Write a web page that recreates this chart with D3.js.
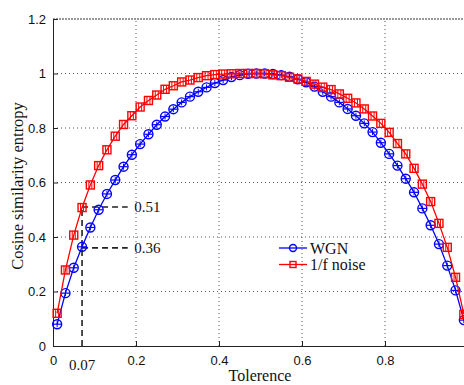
<!DOCTYPE html>
<html>
<head>
<meta charset="utf-8">
<script src="https://cdn.jsdelivr.net/npm/d3@7"></script>
<style>
body { margin: 0; background: #fff; }
svg { display: block; }
</style>
</head>
<body>
<svg></svg>
<script>
// tolerance values (0.01 .. 0.99 step 0.02)
var tol = [0.01,0.03,0.05,0.07,0.09,0.11,0.13,0.15,0.17,0.19,0.21,0.23,0.25,0.27,0.29,0.31,0.33,0.35,0.37,0.39,
           0.41,0.43,0.45,0.47,0.49,0.51,0.53,0.55,0.57,0.59,0.61,0.63,0.65,0.67,0.69,0.71,0.73,0.75,0.77,0.79,
           0.81,0.83,0.85,0.87,0.89,0.91,0.93,0.95,0.97,0.99];

var wgn = [0.080,0.194,0.287,0.364,0.435,0.500,0.558,0.609,0.658,0.702,0.741,0.777,0.812,0.842,0.869,0.894,0.915,0.933,0.949,0.965,
           0.976,0.987,0.994,0.999,1.000,1.000,0.998,0.994,0.988,0.979,0.968,0.952,0.933,0.915,0.894,0.870,0.845,0.817,0.785,0.746,
           0.705,0.662,0.614,0.564,0.505,0.443,0.374,0.295,0.204,0.095];

var pink = [0.120,0.279,0.407,0.508,0.591,0.662,0.720,0.770,0.813,0.845,0.877,0.901,0.921,0.942,0.955,0.969,0.976,0.985,0.992,0.996,
            0.998,0.999,1.000,1.000,1.000,0.999,0.995,0.992,0.986,0.980,0.971,0.961,0.950,0.941,0.925,0.909,0.892,0.870,0.844,0.817,
            0.784,0.743,0.705,0.652,0.594,0.530,0.450,0.362,0.252,0.116];

var xTicks = [0, 0.2, 0.4, 0.6, 0.8];
var yTicks = [0, 0.2, 0.4, 0.6, 0.8, 1, 1.2];

var markX = 0.07, markLow = 0.36, markHigh = 0.51;

var svgWidth = 464, svgHeight = 385;
var plotL = 53, plotT = 19, plotR = 468, plotB = 346;

var svg = d3.select('svg')
    .attr("width", svgWidth)
    .attr("height", svgHeight);

var x = d3.scaleLinear().domain([0, 1]).range([plotL, plotR]);
var y = d3.scaleLinear().domain([0, 1.2]).range([plotB, plotT]);

// grid
svg.append("g").selectAll("line")
    .data(xTicks.slice(1))
    .enter().append("line")
    .attr("x1", function (d) { return x(d); })
    .attr("x2", function (d) { return x(d); })
    .attr("y1", plotB).attr("y2", plotT)
    .attr("stroke", "#555").attr("stroke-width", 1)
    .attr("stroke-dasharray", "1,3");

svg.append("g").selectAll("line")
    .data(yTicks.slice(1, -1))
    .enter().append("line")
    .attr("y1", function (d) { return y(d); })
    .attr("y2", function (d) { return y(d); })
    .attr("x1", plotL).attr("x2", plotR)
    .attr("stroke", "#555").attr("stroke-width", 1)
    .attr("stroke-dasharray", "1,3");

// axes
var xAxis = d3.axisBottom(x).tickValues(xTicks).tickSize(-5).tickSizeOuter(0)
    .tickFormat(function (d) { return d; });
var yAxis = d3.axisLeft(y).tickValues(yTicks).tickSize(-5).tickSizeOuter(0)
    .tickFormat(function (d) { return d; });

var gx = svg.append("g").attr("transform", "translate(0," + plotB + ")").call(xAxis);
var gy = svg.append("g").attr("transform", "translate(" + plotL + ",0)").call(yAxis);

[gx, gy].forEach(function (g) {
    g.select(".domain").attr("stroke", "#222");
    g.selectAll(".tick line").attr("stroke", "#222");
    g.selectAll("text").attr("font-family", "'Liberation Sans', Arial, sans-serif")
        .attr("font-size", 13).attr("fill", "#111");
});
gx.selectAll("text").attr("dy", "1.25em");
gy.selectAll("text").attr("x", -7);

// top border
svg.append("line")
    .attr("x1", plotL).attr("x2", plotR)
    .attr("y1", plotT).attr("y2", plotT)
    .attr("stroke", "#333").attr("stroke-width", 1.2)
    .attr("stroke-dasharray", "2,1");

// annotation dashed lines
var dash = svg.append("g")
    .attr("stroke", "#222").attr("stroke-width", 1.6)
    .attr("stroke-dasharray", "6,4").attr("fill", "none");
dash.append("line")
    .attr("x1", x(markX)).attr("x2", x(markX))
    .attr("y1", y(0)).attr("y2", y(markHigh));
dash.append("line")
    .attr("x1", x(markX)).attr("x2", x(0.18))
    .attr("y1", y(markHigh)).attr("y2", y(markHigh));
dash.append("line")
    .attr("x1", x(markX)).attr("x2", x(0.18))
    .attr("y1", y(markLow)).attr("y2", y(markLow));

var serif = "'Liberation Serif', 'Times New Roman', serif";

svg.append("text").text(markHigh)
    .attr("x", x(0.196)).attr("y", y(markHigh)).attr("dy", "0.35em")
    .attr("font-family", serif).attr("font-size", 15).attr("fill", "#111");
svg.append("text").text(markLow)
    .attr("x", x(0.196)).attr("y", y(markLow)).attr("dy", "0.35em")
    .attr("font-family", serif).attr("font-size", 15).attr("fill", "#111");
svg.append("text").text(markX)
    .attr("x", x(markX)).attr("y", 370).attr("text-anchor", "middle")
    .attr("font-family", serif).attr("font-size", 15).attr("fill", "#111");

// series
var series = [
    { name: "WGN", values: wgn, color: "#0000ff", shape: "circle" },
    { name: "1/f noise", values: pink, color: "#ff0000", shape: "square" }
];

var line = d3.line()
    .x(function (d) { return x(d[0]); })
    .y(function (d) { return y(d[1]); });

function drawMarker(g, shape, color) {
    if (shape === "circle") {
        g.append("circle").attr("r", 4.5)
            .attr("fill", "none").attr("stroke", color).attr("stroke-width", 1.4);
        g.append("line").attr("x1", -4).attr("x2", 4)
            .attr("stroke", color).attr("stroke-width", 1.2);
        g.append("line").attr("y1", -3).attr("y2", 3)
            .attr("stroke", color).attr("stroke-width", 1);
    } else {
        g.append("rect").attr("x", -4).attr("y", -4).attr("width", 8).attr("height", 8)
            .attr("fill", "none").attr("stroke", color).attr("stroke-width", 1.4);
        g.append("line").attr("y1", -4).attr("y2", 4).attr("x1", -1.5).attr("x2", -1.5)
            .attr("stroke", color).attr("stroke-width", 1);
        g.append("line").attr("y1", -4).attr("y2", 4).attr("x1", 1.5).attr("x2", 1.5)
            .attr("stroke", color).attr("stroke-width", 1);
    }
}

series.forEach(function (s) {
    var pts = tol.map(function (t, i) { return [t, s.values[i]]; });
    svg.append("path")
        .datum(pts)
        .attr("d", line)
        .attr("fill", "none")
        .attr("stroke", s.color)
        .attr("stroke-width", 1.3);
    svg.append("g").selectAll("g")
        .data(pts)
        .enter().append("g")
        .attr("transform", function (d) { return "translate(" + x(d[0]) + "," + y(d[1]) + ")"; })
        .each(function () { drawMarker(d3.select(this), s.shape, s.color); });
});

// legend
var legend = svg.append("g").attr("transform", "translate(279,248)");
series.forEach(function (s, i) {
    var g = legend.append("g").attr("transform", "translate(0," + (i * 16.5) + ")");
    g.append("line").attr("x1", 0).attr("x2", 28)
        .attr("stroke", s.color).attr("stroke-width", 1.3);
    var m = g.append("g").attr("transform", "translate(14,0)");
    if (s.shape === "circle") {
        m.append("circle").attr("r", 3.5).attr("fill", "none")
            .attr("stroke", s.color).attr("stroke-width", 1.4);
    } else {
        m.append("rect").attr("x", -3).attr("y", -3).attr("width", 6).attr("height", 6)
            .attr("fill", "none").attr("stroke", s.color).attr("stroke-width", 1.4);
    }
    g.append("text").text(s.name)
        .attr("x", 31).attr("dy", "0.35em")
        .attr("font-family", serif).attr("font-size", 16).attr("fill", "#111");
});

// axis titles
svg.append("text").text("Tolerence")
    .attr("x", 260).attr("y", 381).attr("text-anchor", "middle")
    .attr("font-family", serif).attr("font-size", 16).attr("fill", "#111");
svg.append("text").text("Cosine similarity entropy")
    .attr("transform", "translate(23,186) rotate(-90)")
    .attr("text-anchor", "middle")
    .attr("font-family", serif).attr("font-size", 16.5).attr("fill", "#111");
</script>
</body>
</html>
